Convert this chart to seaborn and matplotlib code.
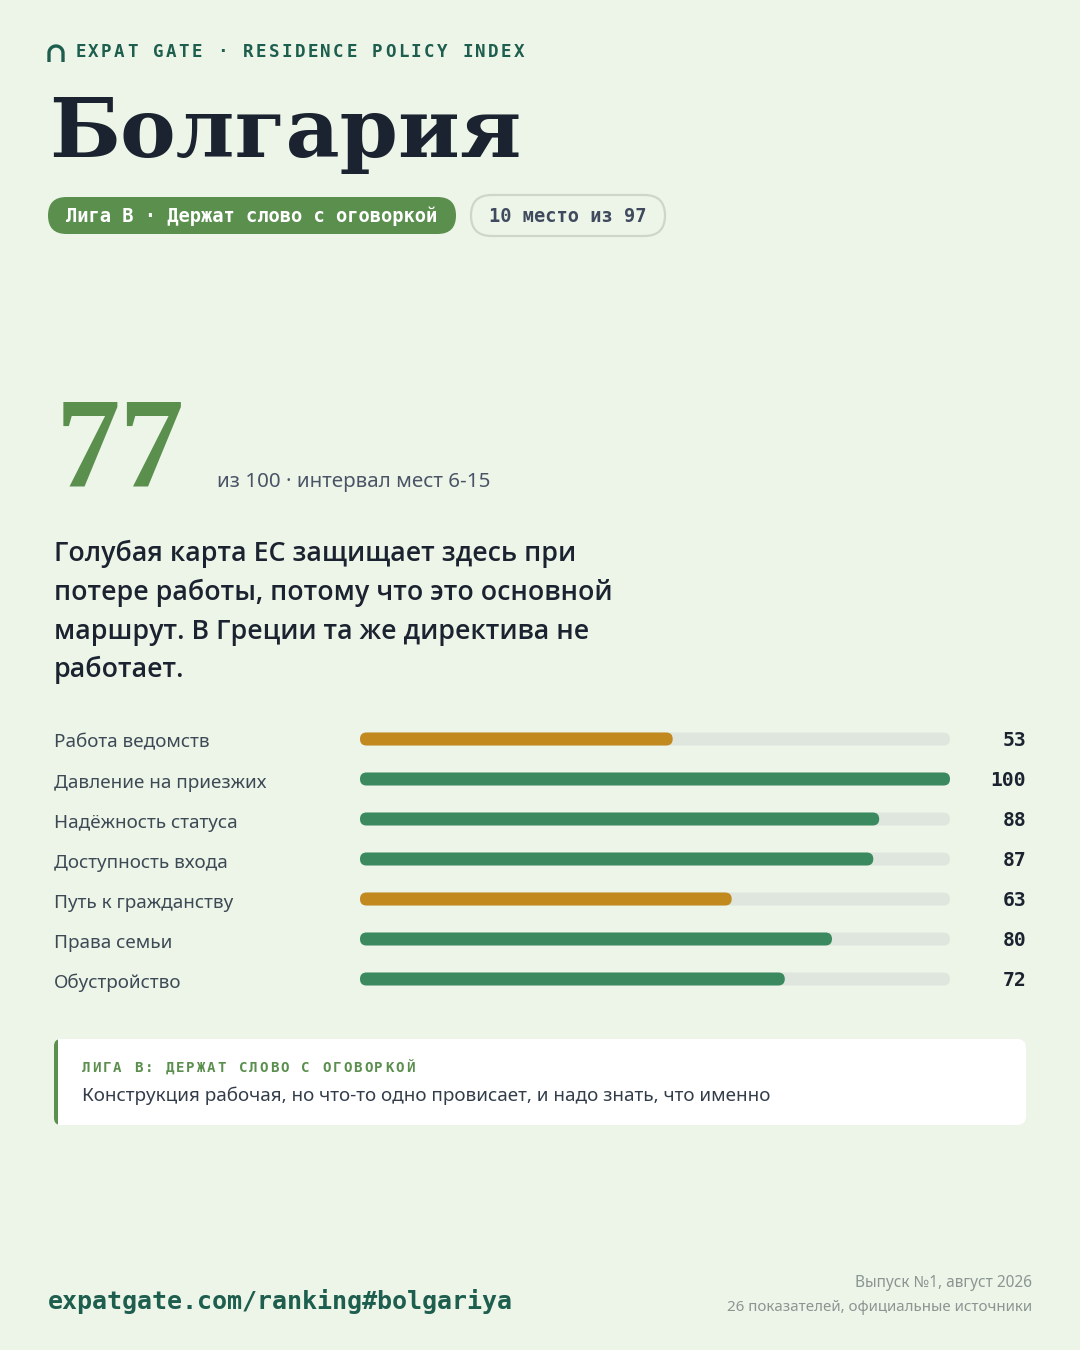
import numpy as np
import pandas as pd
import matplotlib
matplotlib.use("Agg")
import matplotlib.pyplot as plt
import seaborn as sns
from matplotlib.patches import FancyBboxPatch
from matplotlib.lines import Line2D
from matplotlib import transforms as mtrans
from matplotlib import font_manager as fm

# ---------------- data ----------------
brand = "EXPAT GATE · RESIDENCE POLICY INDEX"
country = "Болгария"
league_badge = "Лига B · Держат слово с оговоркой"
rank_badge = "10 место из 97"
score = "77"
score_note = "из 100 · интервал мест 6-15"
lead_lines = ["Голубая карта ЕС защищает здесь при",
              "потере работы, потому что это основной",
              "маршрут. В Греции та же директива не",
              "работает."]
categories = ["Работа ведомств", "Давление на приезжих", "Надёжность статуса",
              "Доступность входа", "Путь к гражданству", "Права семьи", "Обустройство"]
values = [53, 100, 88, 87, 63, 80, 72]
scale_max = 100
callout_title = "ЛИГА B: ДЕРЖАТ СЛОВО С ОГОВОРКОЙ"
callout_text = "Конструкция рабочая, но что-то одно провисает, и надо знать, что именно"
footer_url = "expatgate.com/ranking#bolgariya"
footer_lines = ["Выпуск №1, август 2026", "26 показателей, официальные источники"]

# ---------------- style ----------------
BG = "#edf5e8"
TEAL = "#1d5e4e"
INK = "#1c2330"
BADGE = "#5b8f4e"
GREEN = "#3b8a5f"
ORANGE = "#c1891e"
TRACK = "#dee6de"
GRAY = "#8b9592"
LABEL = "#3d4a56"
MONO = "DejaVu Sans Mono"
SANS = "Noto Sans"
SERIF = "DejaVu Serif"

# pick a semibold sans if one is installed
semi_family, semi_weight = SANS, "bold"
for fam in ["Noto Sans", "Open Sans", "Inter"]:
    if any(f.name == fam and f.weight in (500, 600, "semibold", "demibold", "medium")
           for f in fm.fontManager.ttflist):
        semi_family, semi_weight = fam, 600
        break

W, H = 1080, 1350
sns.set_theme(style="white")
plt.rcParams["font.family"] = [SANS, "DejaVu Sans"]

fig = plt.figure(figsize=(W / 100, H / 100), dpi=100, facecolor=BG)
PIX = mtrans.Affine2D().scale(1, -1).translate(0, H)  # pixel coords, y downwards


def T(x, y, s, **kw):
    kw.setdefault("va", "baseline")
    return fig.text(x, y, s, transform=PIX, **kw)


def spaced(x0, y, s, pitch, **kw):
    for i, c in enumerate(s):
        T(x0 + i * pitch, y, c, ha="center", **kw)


def rbox(x, y, w, h, r, **kw):
    p = FancyBboxPatch((x, y), w, h, boxstyle=f"round,pad=0,rounding_size={r}",
                       transform=PIX, **kw)
    fig.add_artist(p)
    return p

# ---------------- header ----------------
t = np.linspace(np.pi, 0, 30)
arch_x = np.r_[49, 56 + 7 * np.cos(t), 63]
arch_y = np.r_[62, 53 - 7 * np.sin(t), 62]
fig.add_artist(Line2D(arch_x, arch_y, transform=PIX, color=TEAL, lw=2.4,
                      solid_capstyle="butt"))
spaced(80.5, 57, brand, 12.9, family=MONO, fontsize=12.6, fontweight="bold", color=TEAL)

T(49, 157, country, family=SERIF, fontsize=60, fontweight="bold", color=INK)

rbox(48, 197, 408, 37, 18.5, facecolor=BADGE, edgecolor="none")
T(252, 222, league_badge, ha="center", family=MONO, fontsize=13.5,
  fontweight="bold", color="white")
rbox(471, 195, 194, 41, 20.5, facecolor=BG, edgecolor="#ccd6ca", lw=1.6)
T(568, 222, rank_badge, ha="center", family=MONO, fontsize=13.4,
  fontweight="bold", color="#3f4a5e")

# ---------------- score ----------------
T(56, 487, score, family="Liberation Serif", fontsize=93, fontweight="bold", color=BADGE)
T(217, 487, score_note, fontsize=14.8, color="#4a5466")

for i, line in enumerate(lead_lines):
    T(54, 561 + i * 38.8, line, family=semi_family, fontsize=19.25,
      fontweight=semi_weight, color=INK)

# ---------------- bars ----------------
df = pd.DataFrame({"category": categories, "value": values})
df["track"] = scale_max
df["tone"] = np.where(df["value"] < 70, "warn", "good")

ax = fig.add_axes([360 / W, 1 - 999 / H, 590 / W, 280 / H])
ax.set_facecolor("none")
bw = 13 / 40
sns.barplot(data=df, x="track", y="category", orient="h", color=TRACK,
            width=bw, ax=ax, saturation=1)
sns.barplot(data=df, x="value", y="category", orient="h", hue="tone",
            palette={"warn": ORANGE, "good": GREEN}, width=bw, ax=ax,
            saturation=1, legend=False)
ax.set_xlim(0, scale_max)
ax.set_ylim(len(categories) - 0.5, -0.5)
ax.axis("off")

# round the bar ends (geometry taken from seaborn's bars)
for p in list(ax.patches):
    x0, y0 = p.get_x(), p.get_y()
    (dx0, dy0), (dx1, dy1) = ax.transData.transform([(x0, y0), (x0 + p.get_width(), y0 + p.get_height())])
    lo_y, hi_y = min(dy0, dy1), max(dy0, dy1)
    h = hi_y - lo_y
    fc = p.get_facecolor()
    z = p.get_zorder()
    p.remove()
    if dx1 - dx0 <= 0:
        continue
    rp = FancyBboxPatch((dx0, lo_y), dx1 - dx0, h,
                        boxstyle=f"round,pad=0,rounding_size={h / 2}",
                        transform=mtrans.IdentityTransform(), facecolor=fc,
                        edgecolor="none", zorder=z)
    fig.add_artist(rp)

blend = mtrans.blended_transform_factory(mtrans.IdentityTransform(), ax.transData)
lab_off = mtrans.offset_copy(blend, fig=fig, y=-3.5, units="dots")
val_off = mtrans.offset_copy(blend, fig=fig, y=-1.5, units="dots")
for i, row in df.iterrows():
    ax.text(54, i, row["category"], transform=lab_off, va="center", ha="left",
            fontsize=13.6, color=LABEL, clip_on=False)
    ax.text(1026, i, str(row["value"]), transform=val_off, va="center", ha="right",
            family=MONO, fontsize=14.2, fontweight="bold", color=INK, clip_on=False)

# ---------------- callout ----------------
rbox(54, 1039, 972, 86, 9, facecolor="white", edgecolor="none")
rbox(54, 1039, 14, 86, 7, facecolor=BADGE, edgecolor="none")
fig.add_artist(FancyBboxPatch((58, 1039), 20, 86, boxstyle="square,pad=0",
                              transform=PIX, facecolor="white", edgecolor="none"))
spaced(86, 1072, callout_title, 10.45, family=MONO, fontsize=10.2,
       fontweight="bold", color=BADGE)
T(82, 1101, callout_text, fontsize=13.6, color="#333d4a")

# ---------------- footer ----------------
T(48, 1309, footer_url, family=MONO, fontsize=18.0, fontweight="bold", color=TEAL)
T(1032, 1287, footer_lines[0], ha="right", fontsize=11.1, color=GRAY)
T(1032, 1311, footer_lines[1], ha="right", fontsize=10.9, color=GRAY)

fig.savefig("out.png", dpi=100, facecolor=BG)
